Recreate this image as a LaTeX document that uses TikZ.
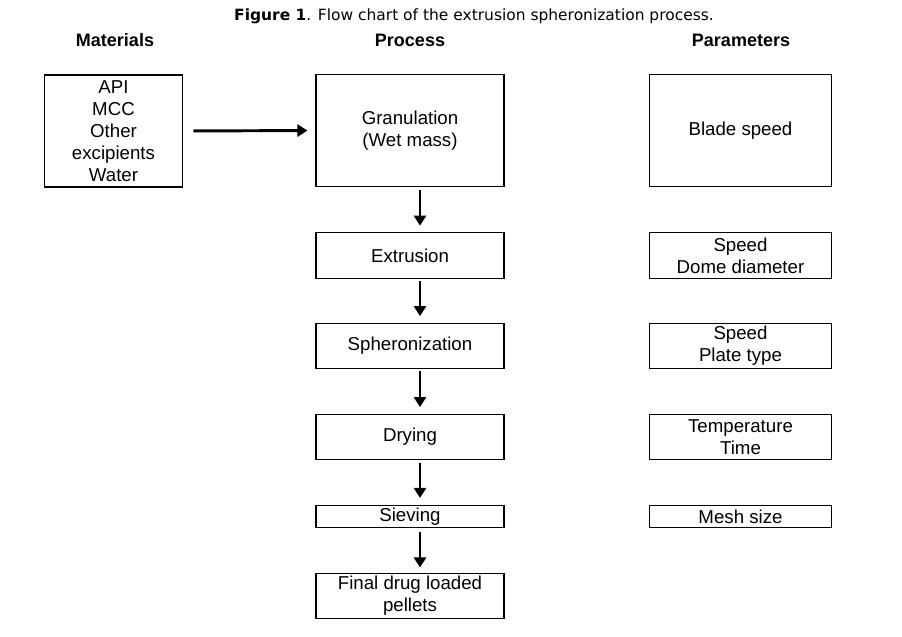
\documentclass[tikz,border=0pt]{standalone}
\usepackage{fontspec}
\setmainfont{Liberation Sans}
\newfontfamily\capfont{DejaVu Sans}
\usetikzlibrary{arrows.meta}
\tikzset{
  box/.style={draw,line width=0.8pt,inner sep=0pt,align=center,minimum height=#1},
  proc/.style={box=#1,minimum width=141pt},
  parm/.style={box=#1,minimum width=137pt},
  head/.style={font=\fontsize{13.5}{16}\selectfont\bfseries},
  flow/.style={line width=2.2pt,-{Triangle[width=9pt,length=7.5pt]}}
}
\begin{document}
\begin{tikzpicture}[x=0.75pt,y=-0.75pt,font=\fontsize{14}{16.5}\selectfont]
\useasboundingbox (0,0) rectangle (902,636);
\node[font=\capfont\fontsize{11.6}{13}\selectfont] (cap) at (474,16) {\textbf{Figure 1}. Flow chart of the extrusion spheronization process.};
\node[head] (hmat) at (115,40) {Materials};
\node[head] (hproc) at (410,40) {Process};
\node[head] (hpar) at (741,40) {Parameters};
% materials
\node[box=84pt,minimum width=104pt] (mat) at (113.5,131) {API\\MCC\\Other\\excipients\\Water};
% process steps
\node[proc=84pt] (gran) at (410,130.5) {Granulation\\(Wet mass)};
\node[proc=34pt] (extr) at (410,255.5) {Extrusion};
\node[proc=34pt] (sphe) at (410,346) {Spheronization};
\node[proc=34pt] (dry) at (410,437) {Drying};
\node[proc=17pt] (siev) at (410,516.5) {Sieving};
\node[proc=34pt] (fin) at (410,596) {Final drug loaded\\pellets};
% parameters
\node[parm=84pt] (pgran) at (740.5,130.5) {Blade speed};
\node[parm=34pt] (pextr) at (740.5,255.5) {Speed\\Dome diameter};
\node[parm=34pt] (psphe) at (740.5,346) {Speed\\Plate type};
\node[parm=34pt] (pdry) at (740.5,437) {Temperature\\Time};
\node[parm=17pt] (psiev) at (740.5,516.5) {Mesh size};
% arrows
\draw[flow,shorten <=7.5pt,shorten >=6pt] (mat.east) -- (gran.west);
\draw[flow,shorten <=2pt,shorten >=5pt] ([xshift=7.5pt]gran.south) -- ([xshift=7.5pt]extr.north);
\draw[flow,shorten <=2pt,shorten >=5pt] ([xshift=7.5pt]extr.south) -- ([xshift=7.5pt]sphe.north);
\draw[flow,shorten <=1pt,shorten >=5pt] ([xshift=7.5pt]sphe.south) -- ([xshift=7.5pt]dry.north);
\draw[flow,shorten <=2pt,shorten >=5pt] ([xshift=7.5pt]dry.south) -- ([xshift=7.5pt]siev.north);
\draw[flow,shorten <=3pt,shorten >=4pt] ([xshift=7.5pt]siev.south) -- ([xshift=7.5pt]fin.north);
\end{tikzpicture}
\end{document}
